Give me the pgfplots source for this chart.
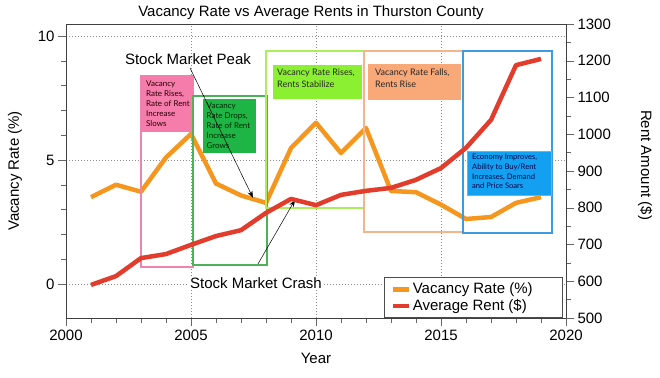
\documentclass[border=0pt]{standalone}
\usepackage{pgfplots}
\pgfplotsset{compat=1.18}
\usepackage{fontspec}
\setmainfont{Liberation Sans}
\newfontfamily\boxfont{Lato}
\usetikzlibrary{arrows.meta}

\definecolor{vac}{HTML}{F5961E}
\definecolor{rent}{HTML}{E23C2D}
\definecolor{pinkO}{HTML}{EF82B0}
\definecolor{pinkF}{HTML}{F67CAB}
\definecolor{greenO}{HTML}{4DB35A}
\definecolor{greenF}{HTML}{1FB446}
\definecolor{limeO}{HTML}{AAEF5A}
\definecolor{limeF}{HTML}{8CF032}
\definecolor{peachO}{HTML}{F5B48C}
\definecolor{peachF}{HTML}{F9A978}
\definecolor{blueO}{HTML}{3C9BE1}
\definecolor{blueF}{HTML}{14A0F0}
\definecolor{tanB}{HTML}{C8A050}

\begin{document}
\begin{tikzpicture}[x=1pt,y=1pt]
\begin{axis}[
  at={(0,0)}, anchor=south west, scale only axis,
  width=500pt, height=294pt,
  xmin=2000, xmax=2020, ymin=-1.37, ymax=10.48,
  xtick={2000,2005,...,2020}, minor x tick num=4,
  ytick={0,5,10}, minor y tick num=4,
  xtick pos=bottom, ytick pos=left, tick align=outside,
  major tick length=8pt, minor tick length=5pt,
  every tick/.style={black!60},
  axis line style={black!75},
  grid=major, major grid style={dash pattern=on 0.8pt off 2.2pt, black!45, line width=0.6pt},
  tick label style={font=\fontsize{15}{15}\selectfont},
  /pgf/number format/assume math mode=true,
  /pgf/number format/1000 sep={},
  xlabel={Year},
  xlabel style={font=\fontsize{15}{18}\selectfont, at={(axis description cs:0.5,-0.136)}, anchor=center},
  ylabel={Vacancy Rate (\%)},
  ylabel style={font=\fontsize{15}{18}\selectfont, at={(axis description cs:-0.102,0.5)}, anchor=center, rotate=0},
]
\addplot[vac, line width=4.5pt, line join=round] coordinates {
(2001,3.5) (2002,4.0) (2003,3.72) (2004,5.1) (2005,6.05) (2006,4.05) (2007,3.57)
(2008,3.27) (2009,5.48) (2010,6.5) (2011,5.28) (2012,6.29) (2013,3.75) (2014,3.7)
(2015,3.2) (2016,2.62) (2017,2.7) (2018,3.27) (2019,3.5)};

% pink
\draw[pinkO, line width=2pt] (axis cs:2003,8.39) rectangle (axis cs:2005.08,0.69);
\fill[pinkF] (axis cs:2003,8.39) rectangle (axis cs:2005.08,6.13);
\node[anchor=north west, align=left, inner sep=0pt, text=black!85!red, font=\boxfont\fontsize{8}{10}\selectfont]
  at (axis cs:2003.2,8.22) {Vacancy\\Rate Rises,\\Rate of Rent\\Increase\\Slows};
% green
\draw[greenO, line width=2pt] (axis cs:2005.08,7.58) rectangle (axis cs:2008.03,0.77);
\fill[greenF] (axis cs:2005.48,7.46) rectangle (axis cs:2007.6,5.28);
\node[anchor=north west, align=left, inner sep=0pt, text=black!85!green, font=\boxfont\fontsize{8}{10}\selectfont]
  at (axis cs:2005.62,7.33) {Vacancy\\Rate Drops,\\Rate of Rent\\Increase\\Grows};
% lime
\draw[limeO, line width=2pt] (axis cs:2008,9.40) rectangle (axis cs:2011.92,3.06);
\fill[limeF] (axis cs:2008.28,8.83) rectangle (axis cs:2011.84,7.46);
\node[anchor=north west, align=left, inner sep=0pt, text=black!85, font=\boxfont\fontsize{9}{12}\selectfont]
  at (axis cs:2008.44,8.68) {Vacancy Rate Rises,\\Rents Stabilize};
% peach
\draw[peachO, line width=2pt] (axis cs:2011.92,9.40) rectangle (axis cs:2015.88,2.10);
\fill[peachF] (axis cs:2012.08,8.87) rectangle (axis cs:2015.8,7.42);
\node[anchor=north west, align=left, inner sep=0pt, text=black!85, font=\boxfont\fontsize{9}{12}\selectfont]
  at (axis cs:2012.36,8.68) {Vacancy Rate Falls,\\Rents Rise};
% blue
\draw[blueO, line width=2pt] (axis cs:2015.88,9.40) rectangle (axis cs:2019.44,2.06);
\filldraw[fill=blueF, draw=tanB, line width=1pt] (axis cs:2016.04,5.36) rectangle (axis cs:2019.4,3.55);
\node[anchor=north west, align=left, inner sep=0pt, text=blue!30!black, font=\boxfont\fontsize{7.6}{9.7}\selectfont]
  at (axis cs:2016.24,5.24) {Economy Improves,\\Ability to Buy/Rent\\Increases, Demand\\and Price Soars};

% annotations
\node[font=\fontsize{15}{18}\selectfont] at (axis cs:2004.88,9.07) {Stock Market Peak};
\draw[-{Stealth[length=7pt,width=5pt]}, black, line width=0.5pt] (axis cs:2004.96,8.71) -- (axis cs:2007.48,3.47);
\node[font=\fontsize{15}{18}\selectfont, fill=white, inner sep=1pt] at (axis cs:2007.6,0.04) {Stock Market Crash};
\draw[-{Stealth[length=7pt,width=5pt]}, black, line width=0.5pt] (axis cs:2007.68,0.81) -- (axis cs:2009.16,3.39);
\end{axis}

\begin{axis}[
  at={(0,0)}, anchor=south west, scale only axis,
  width=500pt, height=294pt,
  xmin=2000, xmax=2020, ymin=500, ymax=1300,
  axis x line=none, axis y line*=right,
  ytick={500,600,...,1300}, minor y tick num=1,
  tick align=outside,
  major tick length=8pt, minor tick length=5pt,
  every tick/.style={black!60},
  axis line style={black!75},
  tick label style={font=\fontsize{15}{15}\selectfont},
  /pgf/number format/assume math mode=true,
  /pgf/number format/1000 sep={},
  ylabel={Rent Amount (\$)},
  ylabel style={font=\fontsize{15}{18}\selectfont, at={(axis description cs:1.158,0.52)}, anchor=center, rotate=180},
  legend style={at={(axis description cs:0.994,0)}, anchor=south east,
    font=\fontsize{15}{17}\selectfont, draw=black!70, line width=0.8pt,
    inner xsep=6pt, inner ysep=3.5pt, row sep=0pt},
  legend cell align=left,
  legend image code/.code={\draw[#1, line width=4.5pt] (0pt,0pt) -- (16pt,0pt);},
]
\addlegendimage{vac}
\addlegendentry{Vacancy Rate (\%)\hspace*{22pt}}
\addplot[rent, line width=4.5pt, line join=round] coordinates {
(2001,590) (2002,614) (2003,663) (2004,674) (2005,699) (2006,723) (2007,739)
(2008,786) (2009,824) (2010,807) (2011,835) (2012,846) (2013,854) (2014,876)
(2015,908) (2016,963) (2017,1039) (2018,1188) (2019,1205)};
\addlegendentry{Average Rent (\$)}
\end{axis}
\node[anchor=base, font=\fontsize{15}{18}\selectfont, inner sep=0pt] at (245,301) {Vacancy Rate vs Average Rents in Thurston County};
\pgfresetboundingbox
\useasboundingbox (-66,-59) rectangle (594,318);
\end{tikzpicture}
\end{document}
